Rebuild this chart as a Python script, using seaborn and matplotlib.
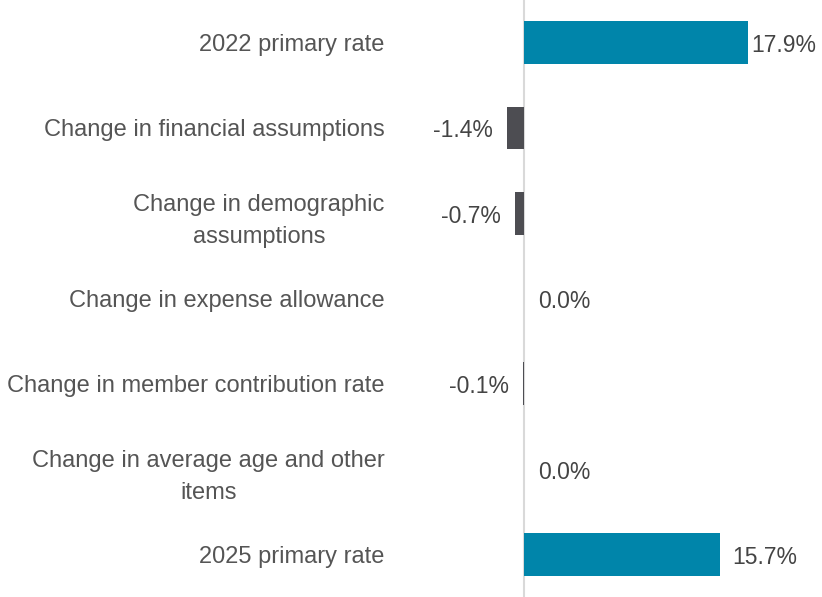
import matplotlib.pyplot as plt
import seaborn as sns
import pandas as pd

# categorias e valores (%)
labels = ['2022 primary rate',
          'Change in financial assumptions',
          'Change in demographic\nassumptions',
          'Change in expense allowance',
          'Change in member contribution rate',
          'Change in average age and other\nitems',
          '2025 primary rate']
values = [17.9, -1.4, -0.7, 0.0, -0.1, 0.0, 15.7]
kind = ['total', 'change', 'change', 'change', 'change', 'change', 'total']

df = pd.DataFrame({'label': labels, 'value': values, 'kind': kind})

sns.set_style('white')
plt.rcParams['font.family'] = ['Liberation Sans', 'DejaVu Sans']

fig = plt.figure(figsize=(8.22, 5.97), dpi=100)
ax = fig.add_axes([400 / 822, 0, 422 / 822, 1])

ax.axvline(0, color='#D9D9D9', lw=1.5, zorder=0)
sns.barplot(data=df, x='value', y='label', hue='kind', orient='h',
            palette={'total': '#0085AA', 'change': '#4D4D52'},
            width=0.5, dodge=False, legend=False, saturation=1,
            linewidth=0, ax=ax)

ax.set_xlim(-9.92, 23.84)
ax.set_ylim(6.5, -0.5)

fs = 16.5
for i, v in enumerate(values):
    txt = f'{v:.1f}%'
    if v > 0:
        ax.annotate(txt, (v, i), xytext=(3 if i == 0 else 12, -3), textcoords='offset pixels',
                    ha='left', va='center', fontsize=fs, color='#444444')
    elif v < 0:
        ax.annotate(txt, (v, i), xytext=(-14, -3), textcoords='offset pixels',
                    ha='right', va='center', fontsize=fs, color='#444444')
    else:
        ax.annotate(txt, (0, i), xytext=(14, -3), textcoords='offset pixels',
                    ha='left', va='center', fontsize=fs, color='#444444')

ax.set_xlabel('')
ax.set_ylabel('')
ax.set_xticks([])
ax.tick_params(axis='y', length=0, pad=11, labelsize=17, labelcolor='#555555')
for t in ax.get_yticklabels():
    t.set_multialignment('center')
    t.set_linespacing(1.6)
sns.despine(ax=ax, left=True, bottom=True)

fig.savefig('out.png', dpi=100)
